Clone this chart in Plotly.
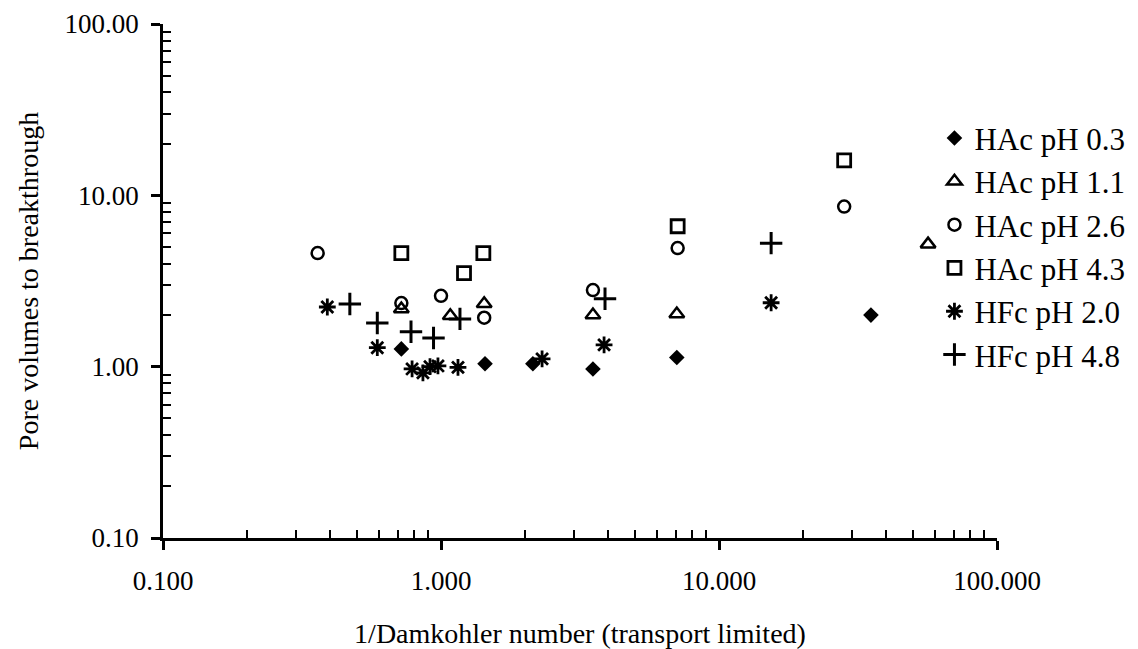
import plotly.graph_objects as go

# ---- data ----
hac03_x = [0.72, 1.44, 2.14, 3.52, 7.05, 35.2]
hac03_y = [1.27, 1.04, 1.04, 0.97, 1.13, 2.0]

hac11_x = [0.72, 1.08, 1.43, 3.52, 7.05, 56.5]
hac11_y = [2.17, 1.98, 2.33, 2.0, 2.03, 5.19]

hac26_x = [0.36, 0.72, 1.0, 1.43, 3.52, 7.1, 28.2]
hac26_y = [4.6, 2.35, 2.59, 1.93, 2.8, 4.92, 8.6]

hac43_x = [0.72, 1.21, 1.42, 7.1, 28.2]
hac43_y = [4.6, 3.52, 4.6, 6.6, 16.0]

hfc20_x = [0.39, 0.59, 0.787, 0.861, 0.913, 0.975, 1.151, 2.31, 3.86, 15.4]
hfc20_y = [2.23, 1.29, 0.97, 0.92, 1.0, 1.01, 0.99, 1.11, 1.34, 2.36]

hfc48_x = [0.47, 0.59, 0.78, 0.94, 1.17, 3.89, 15.4]
hfc48_y = [2.32, 1.80, 1.60, 1.47, 1.90, 2.49, 5.26]

series_names = ["HAc pH 0.3", "HAc pH 1.1", "HAc pH 2.6", "HAc pH 4.3", "HFc pH 2.0", "HFc pH 4.8"]

x_tickvals = [0.1, 1, 10, 100]
x_ticktext = ["0.100", "1.000", "10.000", "100.000"]
y_tickvals = [0.1, 1, 10, 100]
y_ticktext = ["0.10", "1.00", "10.00", "100.00"]

FONT = "Liberation Serif, Times New Roman, serif"

styles = [
    dict(symbol="diamond", size=12, color="black", line=dict(width=0)),
    dict(symbol="triangle-up-open", size=13, color="black", line=dict(width=2.5, color="black")),
    dict(symbol="circle-open", size=12, color="black", line=dict(width=2.5, color="black")),
    dict(symbol="square-open", size=13, color="black", line=dict(width=2.8, color="black")),
    dict(symbol="asterisk-open", size=14, color="black", line=dict(width=2.8, color="black")),
    dict(symbol="cross-thin-open", size=16, color="black", line=dict(width=3, color="black")),
]

data = [(hac03_x, hac03_y), (hac11_x, hac11_y), (hac26_x, hac26_y),
        (hac43_x, hac43_y), (hfc20_x, hfc20_y), (hfc48_x, hfc48_y)]

fig = go.Figure()
for (xs, ys), name, st in zip(data, series_names, styles):
    fig.add_trace(go.Scatter(x=xs, y=ys, mode="markers", name=name, marker=st,
                             cliponaxis=False))

minor_vals = [m * 10 ** e for e in (-1, 0, 1) for m in range(2, 10)]

axis_common = dict(
    type="log",
    showline=True, linewidth=2.5, linecolor="black",
    showgrid=False, zeroline=False,
    ticks="outside", ticklen=9, tickwidth=2.5, tickcolor="black",
    tickmode="array",
    tickfont=dict(family=FONT, size=27, color="black"),
    minor=dict(ticks="inside", ticklen=8, tickwidth=2, tickcolor="black",
               tickmode="array", tickvals=minor_vals, showgrid=False),
)

fig.update_xaxes(**axis_common, range=[-1, 2], tickvals=x_tickvals, ticktext=x_ticktext,
                 ticklabelstandoff=8,
                 title=dict(text="1/Damkohler number (transport limited)",
                            font=dict(family=FONT, size=28, color="black"), standoff=36))
fig.update_yaxes(**axis_common, range=[-1, 2], tickvals=y_tickvals, ticktext=y_ticktext,
                 ticklabelstandoff=7,
                 title=dict(text="Pore volumes to breakthrough",
                            font=dict(family=FONT, size=28, color="black"), standoff=18))

fig.update_layout(
    width=1138, height=649,
    margin=dict(l=163, r=141, t=24, b=111, autoexpand=False),
    paper_bgcolor="white", plot_bgcolor="white",
    showlegend=True,
    legend=dict(x=0.925, y=0.83, xanchor="left", yanchor="top",
                font=dict(family=FONT, size=31, color="black"),
                bgcolor="rgba(0,0,0,0)", itemwidth=30, tracegroupgap=0),
)

fig.write_html("out.html")
